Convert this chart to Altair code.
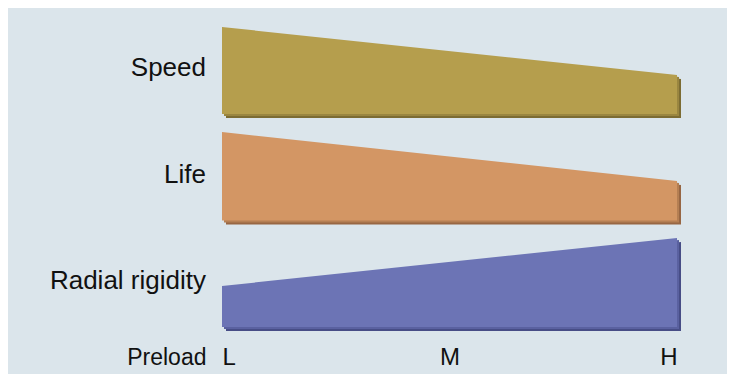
import altair as alt
import pandas as pd

# ---- data ----
categories = ["Speed", "Life", "Radial rigidity"]
preload_ticks = ["L", "M", "H"]
level_at_L = [8.7, 8.85, 4.1]   # relative level at low preload
level_at_H = [3.9, 3.95, 8.9]   # relative level at high preload

# ---- styling / layout constants ----
row_gap = 10.65
label_rise = 3.8
light = ["#b59e4d", "#d39664", "#6c74b5"]
mid = ["#9a8640", "#b57f53", "#5a61a0"]
dark = ["#7c6c33", "#976643", "#474d86"]
FONT = "Liberation Sans"

rows = []
labels = []
n = len(categories)
for i, c in enumerate(categories):
    base = (n - 1 - i) * row_gap
    rows.append({"cat": c, "x": 0, "top": base + level_at_L[i], "base": base})
    rows.append({"cat": c, "x": 2, "top": base + level_at_H[i], "base": base})
    labels.append({"cat": c, "y": base + label_rise})
df = pd.DataFrame(rows)
lab = pd.DataFrame(labels)

xscale = alt.Scale(domain=[0, 2], nice=False, zero=False)
yscale = alt.Scale(domain=[0, 30.9], nice=False, zero=False)

label_expr = "[" + ",".join("'%s'" % t for t in preload_ticks) + "][datum.value]"

xaxis = alt.Axis(
    values=[0, 1, 2], labelExpr=label_expr, labelFlush=True, ticks=False, tickSize=0,
    domain=False, grid=False, labelPadding=37, labelBaseline="alphabetic",
    labelFont=FONT, labelFontSize=24, labelColor="#111111",
    title="Preload", titleX=-16, titleY=37, titleAlign="right", titleAnchor="start",
    titleBaseline="alphabetic", titleAngle=0, titleFont=FONT, titleFontSize=23,
    titleFontWeight="normal", titleColor="#111111",
)


def area_layer(colors, off):
    return alt.Chart(df).mark_area(
        xOffset=off, yOffset=off, y2Offset=off, interpolate="linear", opacity=1
    ).encode(
        x=alt.X("x:Q", scale=xscale, axis=xaxis),
        y=alt.Y("top:Q", scale=yscale, axis=None),
        y2="base:Q",
        color=alt.Color("cat:N", scale=alt.Scale(domain=categories, range=colors), legend=None),
    )


text = alt.Chart(lab).mark_text(
    align="right", baseline="alphabetic", font=FONT, fontSize=26, color="#111111"
).encode(
    x=alt.value(-16),
    y=alt.Y("y:Q", scale=yscale, axis=None),
    text="cat:N",
)

chart = alt.layer(
    area_layer(dark, 4),
    area_layer(mid, 2),
    area_layer(light, 0),
    text,
).resolve_scale(color="independent").properties(
    width=455, height=309,
    padding={"left": 214, "top": 10, "right": 50, "bottom": 47},
    autosize=alt.AutoSizeParams(type="none"),
    background="#dbe5eb",
).configure_view(stroke=None)

chart.save("out.html", embed_options={"renderer": "svg", "actions": False})
